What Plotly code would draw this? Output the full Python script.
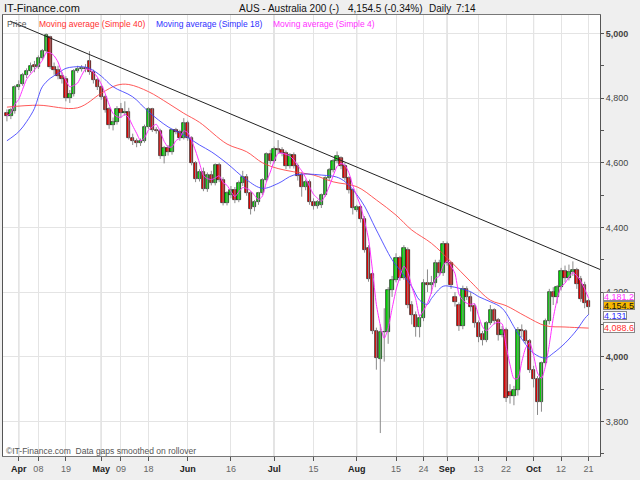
import plotly.graph_objects as go
import pandas as pd
import numpy as np

# ---------------- data ----------------
dates = [d.strftime('%Y-%m-%d') for d in pd.bdate_range('2011-03-29', '2011-10-21')]

opens = [4755, 4745, 4760, 4835, 4845, 4870, 4884, 4902, 4895, 4925,
         4945, 4990, 4895, 4888, 4868, 4860, 4800, 4812, 4885, 4890,
         4893, 4915, 4880, 4855, 4835, 4804, 4765, 4718, 4725, 4765,
         4753, 4758, 4678, 4668, 4660, 4668, 4710, 4766, 4702, 4698,
         4620, 4645, 4632, 4700, 4696, 4678, 4722, 4676, 4598, 4550,
         4572, 4520, 4562, 4538, 4592, 4548, 4476, 4500, 4516, 4484,
         4536, 4557, 4505, 4462, 4478, 4505, 4547, 4628, 4604, 4644,
         4640, 4630, 4590, 4624, 4590, 4562, 4526, 4540, 4478, 4466,
         4470, 4500, 4552, 4578, 4605, 4615, 4590, 4552, 4515, 4455,
         4462, 4425, 4335, 4255, 4080, 3992, 4075, 4078, 4206, 4237,
         4305, 4245, 4330, 4160, 4130, 4093, 4120, 4227, 4222, 4228,
         4289, 4258, 4350, 4290, 4186, 4160, 4095, 4211, 4186, 4158,
         4103, 4070, 4052, 4103, 4145, 4115, 4068, 4083, 3890, 3878,
         3897, 4083, 4080, 4050, 3960, 3930, 3860, 3980, 4110, 4201,
         4185, 4215, 4265, 4245, 4262, 4268, 4240, 4222, 4172]
closes = [4745, 4762, 4835, 4842, 4870, 4884, 4900, 4895, 4925, 4945,
          4995, 4895, 4888, 4868, 4860, 4800, 4812, 4885, 4890, 4893,
          4890, 4880, 4855, 4835, 4804, 4762, 4718, 4725, 4765, 4753,
          4758, 4678, 4668, 4660, 4668, 4710, 4766, 4702, 4698, 4620,
          4645, 4632, 4700, 4696, 4678, 4722, 4676, 4598, 4550, 4572,
          4520, 4562, 4538, 4592, 4548, 4476, 4505, 4516, 4484, 4536,
          4557, 4505, 4456, 4478, 4505, 4547, 4628, 4604, 4644, 4640,
          4630, 4590, 4624, 4590, 4560, 4526, 4540, 4478, 4466, 4478,
          4500, 4552, 4578, 4605, 4620, 4590, 4552, 4515, 4460, 4462,
          4425, 4330, 4240, 4080, 3995, 4075, 4078, 4206, 4237, 4305,
          4245, 4335, 4160, 4130, 4093, 4120, 4227, 4222, 4228, 4289,
          4258, 4350, 4290, 4222, 4170, 4095, 4211, 4186, 4155, 4103,
          4062, 4052, 4103, 4145, 4110, 4068, 4083, 3872, 3878, 3897,
          4083, 4080, 4050, 3960, 3930, 3860, 3980, 4110, 4201, 4185,
          4215, 4265, 4245, 4262, 4268, 4225, 4180, 4165, 4154.5]
highs = [4765, 4770, 4840, 4855, 4878, 4892, 4910, 4915, 4932, 4952,
         5000, 4993, 4910, 4900, 4880, 4868, 4825, 4890, 4900, 4902,
         4905, 4945, 4888, 4862, 4840, 4810, 4772, 4740, 4775, 4785,
         4790, 4770, 4690, 4675, 4675, 4718, 4772, 4770, 4710, 4705,
         4652, 4655, 4705, 4708, 4702, 4738, 4730, 4682, 4605, 4580,
         4585, 4570, 4575, 4598, 4600, 4555, 4512, 4528, 4525, 4545,
         4575, 4565, 4512, 4485, 4510, 4552, 4632, 4640, 4650, 4670,
         4648, 4638, 4630, 4632, 4598, 4570, 4548, 4548, 4490, 4485,
         4505, 4558, 4584, 4612, 4635, 4620, 4600, 4558, 4520, 4470,
         4470, 4435, 4345, 4262, 4090, 4100, 4150, 4215, 4250, 4320,
         4312, 4345, 4338, 4172, 4140, 4130, 4240, 4270, 4250, 4300,
         4300, 4358, 4356, 4295, 4200, 4168, 4220, 4218, 4200, 4165,
         4112, 4080, 4110, 4160, 4150, 4120, 4095, 4090, 3915, 3910,
         4092, 4100, 4085, 4055, 3972, 3940, 3985, 4118, 4210, 4215,
         4222, 4275, 4282, 4285, 4295, 4275, 4250, 4232, 4180]
lows = [4728, 4735, 4752, 4825, 4838, 4862, 4878, 4880, 4890, 4918,
        4940, 4890, 4872, 4858, 4845, 4790, 4785, 4805, 4878, 4882,
        4880, 4872, 4845, 4825, 4795, 4755, 4705, 4700, 4718, 4740,
        4745, 4672, 4655, 4648, 4652, 4662, 4705, 4695, 4690, 4612,
        4598, 4622, 4625, 4688, 4668, 4672, 4668, 4592, 4540, 4542,
        4512, 4510, 4530, 4530, 4540, 4468, 4468, 4490, 4475, 4478,
        4528, 4498, 4440, 4450, 4470, 4500, 4540, 4595, 4598, 4628,
        4620, 4580, 4582, 4582, 4545, 4495, 4515, 4470, 4455, 4458,
        4460, 4495, 4545, 4570, 4598, 4580, 4545, 4505, 4440, 4448,
        4415, 4322, 4232, 4070, 3960, 3764, 3985, 4040, 4185, 4230,
        4235, 4238, 4150, 4100, 4062, 4060, 4110, 4200, 4195, 4215,
        4250, 4250, 4282, 4210, 4155, 4080, 4085, 4175, 4140, 4090,
        4045, 4035, 4045, 4098, 4100, 4050, 4060, 3860, 3855, 3850,
        3880, 4060, 4040, 3950, 3905, 3820, 3830, 3970, 4100, 4160,
        4165, 4205, 4230, 4236, 4250, 4210, 4170, 4150, 4130]

# moving averages (trading-day index, value)
sma40_idx = [0, 8, 18, 24, 28, 31, 36, 41, 45, 49, 56, 61, 65, 69, 73, 78, 83, 89,
             94, 99, 103, 108, 113, 118, 123, 127, 132, 137, 142, 148]
sma40_val = [4772, 4778, 4770, 4815, 4840, 4842, 4820, 4784, 4753, 4725, 4658, 4634,
             4600, 4582, 4572, 4562, 4541, 4526, 4485, 4438, 4392, 4351, 4294, 4232,
             4175, 4158, 4125, 4096, 4092, 4088.6]
sma18_idx = [0, 3, 5, 7, 8, 9, 11, 13, 15, 19, 21, 24, 27, 32, 36, 41, 45, 49, 52, 56,
             61, 65, 69, 73, 80, 85, 90, 94, 98, 100, 103, 105, 107, 108, 111, 113,
             115, 118, 120, 123, 126, 130, 134, 137, 139, 142, 145, 147, 148]
sma18_val = [4668, 4696, 4727, 4768, 4804, 4835, 4861, 4876, 4892, 4897, 4892, 4868,
             4835, 4804, 4758, 4711, 4686, 4655, 4634, 4598, 4547, 4521, 4536, 4562,
             4562, 4550, 4485, 4392, 4300, 4268, 4217, 4175, 4162, 4180, 4218, 4217,
             4212, 4201, 4186, 4170, 4150, 4073, 4011, 3996, 4011, 4042, 4083, 4118, 4131]

# hand-drawn trend line (trading-day index, value)
trend_idx = [0.8, 150.9]
trend_val = [5038, 4270]

tick_dates = ['2011-04-01', '2011-04-08', '2011-04-19', '2011-05-02', '2011-05-09',
              '2011-05-18', '2011-06-01', '2011-06-16', '2011-07-01', '2011-07-15',
              '2011-08-01', '2011-08-15', '2011-08-24', '2011-09-01', '2011-09-13',
              '2011-09-22', '2011-10-03', '2011-10-12', '2011-10-21']
tick_labels = ['Apr', '08', '19', 'May', '09', '18', 'Jun', '16', 'Jul', '15',
               'Aug', '15', '24', 'Sep', '13', '22', 'Oct', '12', '21']
month_labels = {'Apr', 'May', 'Jun', 'Jul', 'Aug', 'Sep', 'Oct'}

y_ticks = [3800, 4000, 4200, 4400, 4600, 4800, 5000]
y_minor = [3700, 3900, 4100, 4300, 4500, 4700, 4900]

last_price = '4,154.5'
sma4_last = '4,181.2'
sma18_last = '4,131'
sma40_last = '4,088.6'

# ---------------- figure ----------------
idx = list(range(len(dates)))
o = np.array(opens, dtype=float)
c = np.array(closes, dtype=float)
sma4 = pd.Series(closes, dtype=float).rolling(4, min_periods=1).mean()
body_base = np.minimum(o, c)
body_len = np.maximum(np.abs(c - o), 1.5)
body_col = ['#00e400' if cc >= oo else '#f00000' for oo, cc in zip(opens, closes)]

FONT = 'Arial, Liberation Sans, sans-serif'
fig = go.Figure()

# wicks
wx, wy = [], []
for i, h, l in zip(idx, highs, lows):
    wx += [i, i, None]
    wy += [l, h, None]
fig.add_trace(go.Scatter(x=wx, y=wy, mode='lines',
                         line=dict(color='#8a8a8a', width=1), hoverinfo='skip'))

# candle bodies
fig.add_trace(go.Bar(x=idx, y=body_len, base=body_base, width=0.86,
                     marker=dict(color=body_col, line=dict(color='#1a1a1a', width=0.7)),
                     hoverinfo='skip'))

fig.add_trace(go.Scatter(x=sma40_idx, y=sma40_val, mode='lines',
                         line=dict(color='rgba(255,60,60,0.85)', width=1, shape='spline'),
                         hoverinfo='skip'))
fig.add_trace(go.Scatter(x=sma18_idx, y=sma18_val, mode='lines',
                         line=dict(color='rgba(60,60,255,0.85)', width=1, shape='spline'),
                         hoverinfo='skip'))
fig.add_trace(go.Scatter(x=idx, y=sma4, mode='lines',
                         line=dict(color='#ff30ff', width=1, shape='spline', smoothing=0.6),
                         hoverinfo='skip'))
fig.add_trace(go.Scatter(x=trend_idx, y=trend_val, mode='lines',
                         line=dict(color='#222222', width=1), hoverinfo='skip'))

tickvals = [dates.index(d) for d in tick_dates]
ticktext = [f'<b>{t}</b>' if t in month_labels else f'<span style="color:#666">{t}</span>'
            for t in tick_labels]

shapes = []
dark = {'Apr', 'May', 'Jul', 'Oct'}
mid = {'Aug', 'Sep'}
for v, t in zip(tickvals, tick_labels):
    if t in dark:
        col = '#a8a8a8'
    elif t in mid:
        col = '#c4c4c4'
    else:
        continue
    shapes.append(dict(type='line', xref='x', yref='paper', x0=v, x1=v, y0=0, y1=1,
                       line=dict(color=col, width=1), layer='below'))

ytext = [f'<b>{v:,}</b>' if v in (4000, 5000) else f'{v:,}' for v in y_ticks]

fig.update_layout(
    width=640, height=480,
    margin=dict(l=3, r=40, t=15, b=24),
    paper_bgcolor='#efefef', plot_bgcolor='#ffffff',
    showlegend=False, hovermode=False, bargap=0,
    font=dict(family=FONT, size=9, color='#444'),
    shapes=shapes,
    xaxis=dict(range=[-1.0, 150.9], tickmode='array', tickvals=tickvals, ticktext=ticktext,
               ticks='outside', ticklen=4, tickcolor='#555', showgrid=True,
               gridcolor='#e4e4e4', showline=True, linecolor='#777', mirror=True,
               zeroline=False,
               tickfont=dict(family=FONT, size=9, color='#222')),
    yaxis=dict(range=[3693, 5057], side='right', tickmode='array', tickvals=y_ticks,
               ticktext=ytext, ticks='outside', ticklen=3, tickcolor='#555',
               showgrid=True, gridcolor='#e4e4e4', showline=True, linecolor='#555',
               mirror=True, zeroline=False,
               minor=dict(tickvals=y_minor, ticks='outside', ticklen=3, tickcolor='#555',
                          showgrid=False),
               tickfont=dict(family=FONT, size=9, color='#444')),
)

def px_x(px):
    return (px - 3) / 597.0

def px_y(py):
    return (456 - py) / 441.0

ann = []
ann.append(dict(text='IT-Finance.com', x=px_x(2), y=px_y(8), xref='paper', yref='paper',
                xanchor='left', yanchor='middle', showarrow=False,
                font=dict(family=FONT, size=11, color='#111')))
for txt, xp in [('AUS - Australia 200 (-)', 237), ('4,154.5 (-0.34%)', 346),
                ('Daily', 427), ('7:14', 454)]:
    ann.append(dict(text=txt, x=px_x(xp), y=px_y(8), xref='paper', yref='paper',
                    xanchor='left', yanchor='middle', showarrow=False,
                    font=dict(family=FONT, size=10, color='#111')))
for txt, xp, col in [('Price', 5, '#555'), ('Moving average (Simple 40)', 37, '#ff3030'),
                     ('Moving average (Simple 18)', 154, '#3030ff'),
                     ('Moving average (Simple 4)', 271, '#ff30ff')]:
    ann.append(dict(text=txt, x=px_x(xp), y=px_y(24.5), xref='paper', yref='paper',
                    xanchor='left', yanchor='middle', showarrow=False,
                    font=dict(family=FONT, size=8.5, color=col)))
ann.append(dict(text='©IT-Finance.com  Data gaps smoothed on rollover', x=px_x(4),
                y=px_y(450.5), xref='paper', yref='paper', xanchor='left',
                yanchor='middle', showarrow=False,
                font=dict(family=FONT, size=8.5, color='#555')))

for txt, py, col, bg, w, h in [(sma4_last, 296, '#ff30ff', '#ffffff', 30, 7),
                               (last_price, 305.5, '#111111', '#f7b800', 30, 7),
                               (sma18_last, 315, '#3030ff', '#ffffff', 22, 7),
                               (sma40_last, 327.5, '#ff3030', '#ffffff', 30, 9)]:
    ann.append(dict(text=txt, x=px_x(603), y=px_y(py), xref='paper', yref='paper',
                    xanchor='left', yanchor='middle', showarrow=False, align='left',
                    width=w, height=h, bgcolor=bg, bordercolor='#888', borderwidth=1,
                    borderpad=0, font=dict(family=FONT, size=9, color=col)))

fig.update_layout(annotations=ann)
fig.write_html('out.html', config={'displayModeBar': False},
               post_script="document.body.style.margin='0px';document.body.style.overflow='hidden';")
